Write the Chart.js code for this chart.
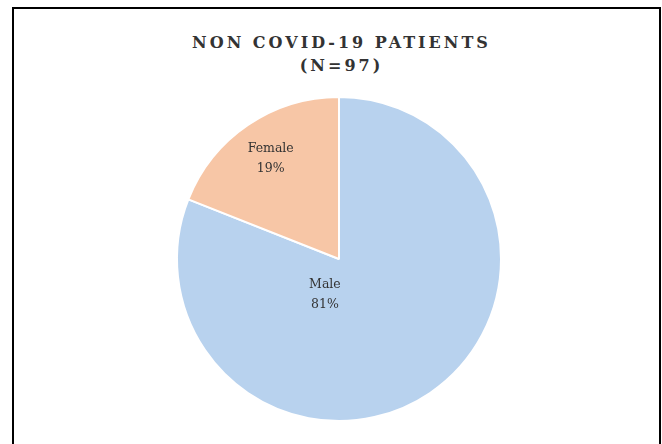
<!DOCTYPE html>
<html>
<head>
<meta charset="utf-8">
<script src="https://cdn.jsdelivr.net/npm/chart.js@4/dist/chart.umd.min.js"></script>
<style>
  html, body { margin: 0; padding: 0; background: #ffffff; }
  #wrap { position: relative; width: 662px; height: 444px; overflow: hidden; background: #fff; }
  #frame { position: absolute; left: 12px; top: 7px; width: 645px; height: 500px;
           border-top: 2px solid #000; border-left: 2px solid #000; border-right: 2px solid #000; }
  #title { position: absolute; left: 0; width: 683px; top: 31px; text-align: center;
           font-family: "DejaVu Serif", serif; font-weight: bold; font-size: 16px;
           letter-spacing: 3px; color: #333333; line-height: 23px; }
  canvas { position: absolute; left: 0; top: 0; }
</style>
</head>
<body>
<div id="wrap">
  <div id="frame"></div>
  <div id="title">NON COVID-19 PATIENTS<br>(N=97)</div>
  <canvas id="c" width="662" height="444"></canvas>
</div>
<script>
const categories = ["Male", "Female"];
const percentages = [81, 19];
const sliceColors = ["#B8D2EE", "#F7C6A6"];

const labelPlugin = {
  id: "sliceLabels",
  afterDatasetsDraw(chart) {
    const ctx = chart.ctx;
    const meta = chart.getDatasetMeta(0);
    ctx.save();
    ctx.font = "12.5px 'DejaVu Serif', serif";
    ctx.fillStyle = "#333333";
    ctx.textAlign = "center";
    ctx.textBaseline = "middle";
    meta.data.forEach((arc, i) => {
      const p = arc.getProps(["x", "y", "startAngle", "endAngle", "outerRadius"], true);
      let ang, frac;
      if (i === 0) { ang = Math.PI / 2 + 0.37; frac = 0.24; }
      else { ang = (p.startAngle + p.endAngle) / 2; frac = 0.75; }
      const x = p.x + Math.cos(ang) * p.outerRadius * frac;
      const y = p.y + Math.sin(ang) * p.outerRadius * frac;
      ctx.fillText(categories[i], x, y - 10);
      ctx.fillText(percentages[i] + "%", x, y + 10);
    });
    ctx.restore();
  }
};

new Chart(document.getElementById("c"), {
  type: "pie",
  data: {
    labels: categories,
    datasets: [{
      data: percentages,
      backgroundColor: sliceColors,
      borderColor: "#ffffff",
      borderWidth: 2
    }]
  },
  options: {
    responsive: false,
    animation: false,
    layout: { padding: { top: 96, bottom: 22, left: 100, right: 84 } },
    plugins: { legend: { display: false }, tooltip: { enabled: false }, title: { display: false } }
  },
  plugins: [labelPlugin]
});
</script>
</body>
</html>
